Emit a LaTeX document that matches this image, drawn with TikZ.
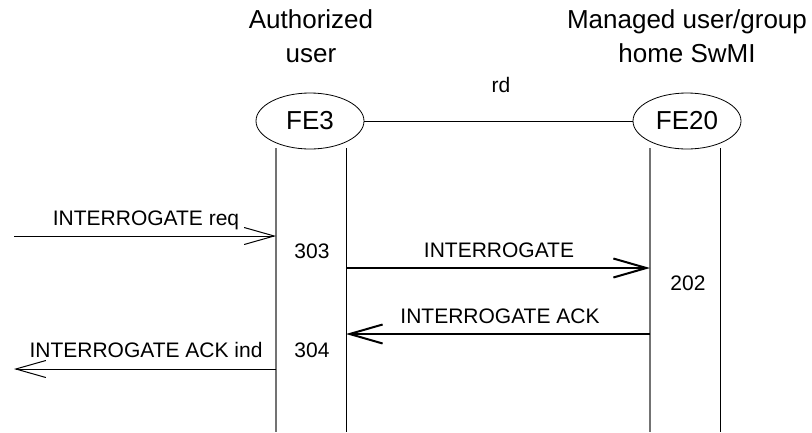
\documentclass[tikz,border=0pt]{standalone}
\usepackage{fontspec}
\setmainfont{Liberation Sans}
\usetikzlibrary{arrows.meta,shapes.geometric,positioning}

\tikzset{
  fe/.style={draw, ellipse, line width=0.8pt, minimum width=108pt, minimum height=56pt, inner sep=0pt, font=\fontsize{26}{30}\selectfont},
  head/.style={anchor=base, font=\fontsize{26}{30}\selectfont},
  lbl/.style={anchor=base, font=\fontsize{21}{25}\selectfont},
  life/.style={line width=1pt},
  lifeg/.style={line width=1.5pt, color=black!55},
  msg/.style={line width=1pt, -{Straight Barb[length=30pt,width=17pt,line width=1pt]}},
  msgb/.style={line width=2pt, -{Straight Barb[length=33pt,width=19pt,line width=2pt]}}
}

\begin{document}
\begin{tikzpicture}[x=1pt,y=-1pt]
  \useasboundingbox (0,0) rectangle (812,432);

  % functional entities
  \node [fe] (FE3) at (310,121) {FE3};
  \node [fe] (FE20) at (687,121) {FE20};
  \draw [line width=0.8pt] (FE3) -- (FE20);
  \node [lbl] (rd) at (501,92) {rd};

  \node [head] (auth1) at (311,28) {Authorized};
  \node [head] (auth2) at (311,62) {user};
  \node [head] (man1) at (687,28) {Managed user/group};
  \node [head] (man2) at (687,62) {home SwMI};

  % lifelines
  \coordinate (a1t) at (276,148); \coordinate (a1b) at (276,432);
  \coordinate (a2t) at (346,148); \coordinate (a2b) at (346,432);
  \coordinate (b1t) at (650,148); \coordinate (b1b) at (650,432);
  \coordinate (b2t) at (720,148); \coordinate (b2b) at (720,432);
  \draw [lifeg] (a1t) -- (a1b);
  \draw [life] (a2t) -- (a2b);
  \draw [lifeg] (b1t) -- (b1b);
  \draw [life] (b2t) -- (b2b);

  % messages
  \coordinate (reqL) at (14,236);  \coordinate (reqR) at (276,236);
  \coordinate (intL) at (346,268); \coordinate (intR) at (650,268);
  \coordinate (ackL) at (346,334); \coordinate (ackR) at (650,334);
  \coordinate (indL) at (14,369);  \coordinate (indR) at (276,369);

  \draw [msg] (reqL) -- (reqR);
  \node [lbl] (reqtxt) at (146,225) {INTERROGATE req};
  \node [lbl] (n303) at (312,258) {303};

  \draw [msgb] (intL) -- (intR);
  \node [lbl] (inttxt) at (499,257) {INTERROGATE};
  \node [lbl] (n202) at (688,290) {202};

  \draw [msgb] (ackR) -- (ackL);
  \node [lbl] (acktxt) at (500,323) {INTERROGATE ACK};
  \node [lbl] (n304) at (312,357) {304};

  \draw [msg] (indR) -- (indL);
  \node [lbl] (indtxt) at (146,357) {INTERROGATE ACK ind};
\end{tikzpicture}
\end{document}
